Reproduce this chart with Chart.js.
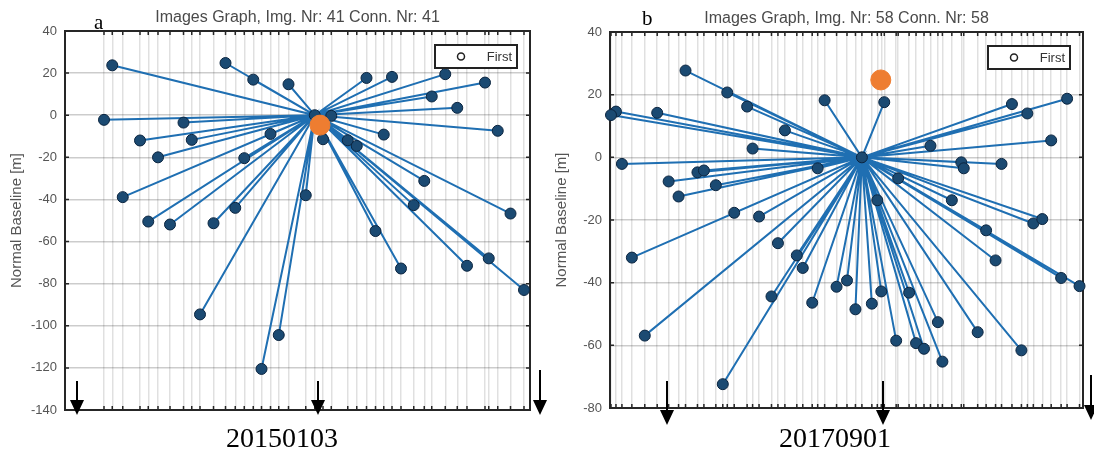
<!DOCTYPE html>
<html>
<head>
<meta charset="utf-8">
<script src="https://cdn.jsdelivr.net/npm/chart.js@4.4.0/dist/chart.umd.min.js"></script>
<style>
body { margin: 0; background: #fff; width: 1094px; height: 450px; position: relative; overflow: hidden; }
canvas { position: absolute; top: 0; }
#chartA { left: 0; }
#chartB { left: 545px; }
.tag { position: absolute; font-family: "Liberation Serif", "Times New Roman", serif; color: #000; line-height: 1; }
svg { position: absolute; left: 0; top: 0; }
</style>
</head>
<body>
<canvas id="chartA" width="545" height="450"></canvas>
<canvas id="chartB" width="549" height="450"></canvas>
<div class="tag" style="left:94px;top:12px;font-size:21px">a</div>
<div class="tag" style="left:642px;top:8px;font-size:21px">b</div>
<div class="tag" id="dateA" style="left:222px;top:424px;font-size:28px;width:120px;text-align:center"></div>
<div class="tag" id="dateB" style="left:775px;top:424px;font-size:28px;width:120px;text-align:center"></div>
<svg width="1094" height="450" id="arrows"></svg>
<script>
// ---- panel a : star graph around master 20150103 ----
// x = days from master, y = normal baseline [m]
var masterDateA = '20150103'
var titleA = 'Images Graph, Img. Nr: 41 Conn. Nr: 41'
var daysA = [-270, -281, -175, -233, -164, -209, -59, -94, -256, -119,
             -82, -35, -106, -222, -193, -135, -153, -48, -71, 69,
             103, 174, 227, 156, 190, 244, 92, 22, 11, 44,
             56, 146, 132, 261, 81, -12, 115, 203, 232, 279]
var baseA = [23.7, -2.2, -3.5, -12, -11.7, -20, -8.9, -20.4, -38.9, 24.8,
             16.9, 14.7, -44, -50.5, -51.9, -51.3, -94.6, -104.4, -120.5, 17.7,
             18.2, 19.5, 15.5, 8.9, 3.5, -7.4, -9.2, -0.3, -11.4, -11.9,
             -14.6, -31.2, -42.7, -46.7, -55, -38, -72.8, -71.5, -68, -83]
var masterA = [0, 0]
var firstA = [7, -4.7]
var xRangeA = [-333, 287]
var yTicksA = [40, 20, 0, -20, -40, -60, -80, -100, -120, -140]

// ---- panel b : star graph around master 20170901 ----
var masterDateB = '20170901'
var titleB = 'Images Graph, Img. Nr: 58 Conn. Nr: 58'
var daysB = [-355, -271, -231, -412, -495, -505, -155, -220, -75, -483,
             -89, -331, -318, -389, -294, -369, -257, -207, -463, -437,
             -280, -169, -131, -119, -182, -100, -51, -30, -13, 20,
             39, 95, 69, 109, 125, 162, 153, 233, 321, 250,
             269, 345, 363, 401, 438, 45, 302, 333, 413, 381,
             138, 200, 205, 281, 73, 31, 181]
var baseB = [27.7, 20.7, 16.2, 14.2, 14.6, 13.5, 8.6, 2.8, 18.2, -2.1,
             -3.5, -4.8, -4.2, -7.7, -8.9, -12.5, -17.7, -18.9, -32, -56.9,
             -72.4, -27.4, -31.3, -35.3, -44.4, -46.4, -41.3, -39.3, -48.5, -46.7,
             -42.8, -43.2, -58.5, -59.3, -61.1, -65.2, -52.6, -55.8, -61.6, -23.3,
             -32.9, -21.1, -19.7, -38.5, -41.1, 17.6, 17, 14, 18.7, 5.4,
             3.7, -1.6, -3.5, -2.1, -6.7, -13.7, -13.7]
var masterB = [0, 0]
var firstB = [38, 24.7]
var xRangeB = [-507, 445]
var yTicksB = [40, 20, 0, -20, -40, -60, -80]

var legendLabel = 'First'
var yTitle = 'Normal Baseline [m]'

var FONT = '"Liberation Sans", Arial, sans-serif'

// grid box, inward ticks, title and the small legend, drawn the matlab way
var framePlugin = {
    id: 'frame',
    beforeDatasetsDraw: function (chart) {
        var ctx = chart.ctx, a = chart.chartArea
        var xs = chart.scales.x, ys = chart.scales.y
        ctx.save()
        ctx.strokeStyle = '#262626'
        ctx.lineWidth = 1.5
        ctx.beginPath()
        xs.ticks.forEach(function (t) {
            var px = xs.getPixelForValue(t.value)
            ctx.moveTo(px, a.top); ctx.lineTo(px, a.top + 4)
            ctx.moveTo(px, a.bottom); ctx.lineTo(px, a.bottom - 4)
        })
        ys.ticks.forEach(function (t) {
            var py = ys.getPixelForValue(t.value)
            ctx.moveTo(a.left, py); ctx.lineTo(a.left + 4, py)
            ctx.moveTo(a.right, py); ctx.lineTo(a.right - 4, py)
        })
        ctx.stroke()
        ctx.lineWidth = 2
        ctx.strokeRect(a.left, a.top, a.right - a.left, a.bottom - a.top)
        ctx.restore()
    },
    afterDraw: function (chart) {
        var o = chart.options.plugins.frame
        var ctx = chart.ctx, a = chart.chartArea
        ctx.save()
        ctx.fillStyle = '#4a4a4a'
        ctx.font = '16px ' + FONT
        ctx.textAlign = 'center'
        ctx.fillText(o.title, (a.left + a.right) / 2, o.titleY)
        // legend box
        var w = 82, h = 23
        var bx = a.right - 13 - w, by = a.top + 14
        ctx.fillStyle = '#fff'
        ctx.fillRect(bx, by, w, h)
        ctx.strokeStyle = '#222'
        ctx.lineWidth = 2
        ctx.strokeRect(bx, by, w, h)
        ctx.lineWidth = 1.5
        ctx.beginPath()
        ctx.arc(bx + 26, by + h / 2, 3.5, 0, Math.PI * 2)
        ctx.stroke()
        ctx.fillStyle = '#333'
        ctx.font = '13px ' + FONT
        ctx.textAlign = 'right'
        ctx.textBaseline = 'middle'
        ctx.fillText(legendLabel, bx + w - 5, by + h / 2 + 1)
        ctx.restore()
    }
}

function starSegments(days, base, master) {
    var seg = []
    for (var i = 0; i < days.length; i++) {
        seg.push({x: master[0], y: master[1]})
        seg.push({x: days[i], y: base[i]})
    }
    return seg
}

function nodes(days, base, master) {
    var pts = [{x: master[0], y: master[1]}]
    for (var i = 0; i < days.length; i++) {
        pts.push({x: days[i], y: base[i]})
    }
    return pts
}

function drawGraph(id, days, base, master, first, xRange, yTicks, title, titleY, pad) {
    var ctx = document.getElementById(id).getContext('2d')
    var gridDays = days.concat([master[0]])
    return new Chart(ctx, {
        type: 'scatter',
        data: {
            datasets: [
                {
                    data: starSegments(days, base, master),
                    showLine: true,
                    borderColor: '#1f6fb2',
                    borderWidth: 2,
                    pointRadius: 0,
                    tension: 0,
                    order: 3
                },
                {
                    data: nodes(days, base, master),
                    pointRadius: 5.5,
                    pointBackgroundColor: '#1b4a72',
                    pointBorderColor: '#0b2540',
                    pointBorderWidth: 1,
                    clip: false,
                    order: 2
                },
                {
                    data: [{x: first[0], y: first[1]}],
                    pointRadius: 10,
                    pointBackgroundColor: '#ee7d31',
                    pointBorderColor: '#ee7d31',
                    clip: false,
                    order: 1
                }
            ]
        },
        options: {
            responsive: false,
            animation: false,
            layout: {padding: pad},
            plugins: {
                legend: {display: false},
                tooltip: {enabled: false},
                frame: {title: title, titleY: titleY}
            },
            scales: {
                x: {
                    type: 'linear',
                    min: xRange[0],
                    max: xRange[1],
                    border: {display: false},
                    grid: {color: 'rgba(0,0,0,0.12)', lineWidth: 1.5, drawTicks: false},
                    ticks: {display: false},
                    afterBuildTicks: function (s) {
                        s.ticks = gridDays.map(function (v) { return {value: v} })
                    },
                    afterFit: function (s) { s.height = 0 }
                },
                y: {
                    min: yTicks[yTicks.length - 1],
                    max: yTicks[0],
                    border: {display: false},
                    grid: {color: 'rgba(0,0,0,0.2)', lineWidth: 1.5, drawTicks: false},
                    ticks: {color: '#555', padding: 8, font: {family: FONT, size: 13}},
                    afterBuildTicks: function (s) {
                        s.ticks = yTicks.map(function (v) { return {value: v} })
                    },
                    title: {
                        display: true,
                        text: yTitle,
                        color: '#555',
                        font: {family: FONT, size: 15},
                        padding: {top: 8, bottom: 0}
                    },
                    afterFit: function (s) { s.width = 65 }
                }
            }
        },
        plugins: [framePlugin]
    })
}

drawGraph('chartA', daysA, baseA, masterA, firstA, xRangeA, yTicksA, titleA, 22,
          {top: 31, bottom: 40, left: 0, right: 15})
drawGraph('chartB', daysB, baseB, masterB, firstB, xRangeB, yTicksB, titleB, 23,
          {top: 32, bottom: 42, left: 0, right: 8})

document.getElementById('dateA').textContent = masterDateA
document.getElementById('dateB').textContent = masterDateB

// black down arrows under the axes
var arrowList = [
    [77, 381, 415], [318, 381, 415], [540, 370, 415],
    [667, 381, 425], [883, 381, 425], [1091, 375, 420]
]
var svg = document.getElementById('arrows')
var html = ''
arrowList.forEach(function (a) {
    var x = a[0], top = a[1], tip = a[2]
    html += '<line x1="' + x + '" y1="' + top + '" x2="' + x + '" y2="' + (tip - 12) +
            '" stroke="#000" stroke-width="2"/>'
    html += '<polygon points="' + (x - 7) + ',' + (tip - 15) + ' ' + (x + 7) + ',' + (tip - 15) +
            ' ' + x + ',' + tip + '" fill="#000"/>'
})
svg.innerHTML = html
</script>
</body>
</html>
